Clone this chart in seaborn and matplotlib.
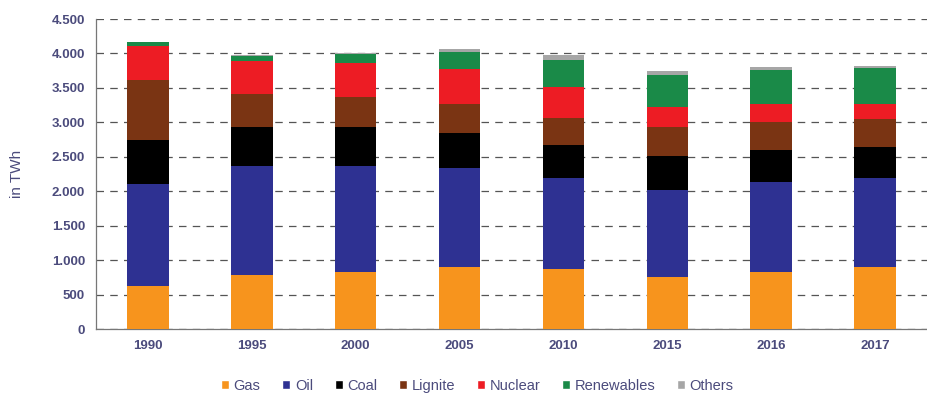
import numpy as np
import pandas as pd
import matplotlib
matplotlib.use("Agg")
import matplotlib.pyplot as plt
import seaborn as sns
from matplotlib.patches import Patch
from matplotlib.ticker import FuncFormatter, MultipleLocator

years = ["1990", "1995", "2000", "2005", "2010", "2015", "2016", "2017"]
gas = [620, 777, 831, 894, 865, 752, 831, 894]
oil = [1481, 1588, 1534, 1437, 1330, 1261, 1300, 1301]
coal = [646, 563, 563, 509, 474, 505, 464, 440]
lignite = [865, 488, 440, 430, 396, 410, 411, 410]
nuclear = [494, 480, 498, 508, 450, 293, 259, 215]
renewables = [54, 73, 127, 250, 390, 470, 493, 523]
others = [8, 15, 15, 38, 79, 53, 40, 39]

sources = ["Gas", "Oil", "Coal", "Lignite", "Nuclear", "Renewables", "Others"]
colors = ["#f7941d", "#2e3192", "#000000", "#7a3413", "#ed1c24", "#1a8a48", "#a6a6a6"]

df = pd.DataFrame({"year": years, "Gas": gas, "Oil": oil, "Coal": coal,
                   "Lignite": lignite, "Nuclear": nuclear,
                   "Renewables": renewables, "Others": others})
cum = df[sources].cumsum(axis=1)

sns.set_style("white")
plt.rcParams["font.family"] = ["Liberation Sans", "DejaVu Sans"]
txt = "#4b4b7c"

fig = plt.figure(figsize=(9.27, 4), dpi=100)
ax = fig.add_axes([0.1036, 0.1775, 0.8964, 0.775])

# draw cumulative totals from the top down so each layer sits on the previous
for src, col in reversed(list(zip(sources, colors))):
    sns.barplot(x=df["year"], y=cum[src], color=col, width=0.4,
                saturation=1, ax=ax, zorder=3, linewidth=0)

ax.set_ylim(0, 4500)
ax.set_xlim(-0.5, len(years) - 0.5)
ax.yaxis.set_major_locator(MultipleLocator(500))
ax.yaxis.set_major_formatter(FuncFormatter(lambda v, p: f"{v:,.0f}".replace(",", ".")))
ax.grid(axis="y", linestyle=(0, (6, 5)), color="#555555", linewidth=0.9, zorder=0)
ax.set_axisbelow(True)

for s in ["top", "right"]:
    ax.spines[s].set_visible(False)
for s in ["left", "bottom"]:
    ax.spines[s].set_color("#777777")
    ax.spines[s].set_linewidth(0.9)

ax.set_xticks(np.arange(len(years)))
ax.set_xticklabels(years)
ax.set_xticks(np.arange(len(years)) + 0.5, minor=True)
ax.tick_params(axis="x", which="major", length=0, pad=8)
ax.tick_params(axis="x", which="minor", length=4, color="#777777", direction="out")
ax.tick_params(axis="y", length=4, color="#777777", direction="out", pad=4)
for lab in ax.get_xticklabels() + ax.get_yticklabels():
    lab.set_fontsize(9.5)
    lab.set_fontweight("bold")
    lab.set_color(txt)

ax.set_xlabel("")
ax.set_ylabel("in TWh", fontsize=11, color=txt, labelpad=20)

handles = [Patch(facecolor=c, label=s) for s, c in zip(sources, colors)]
fig.legend(handles=handles, loc="center", bbox_to_anchor=(0.515, 0.035), ncol=7,
           frameon=False, handlelength=0.55, handleheight=0.55, handletextpad=0.3,
           columnspacing=1.5, prop={"size": 10.5}, labelcolor=txt)

fig.savefig("out.png", dpi=100)
